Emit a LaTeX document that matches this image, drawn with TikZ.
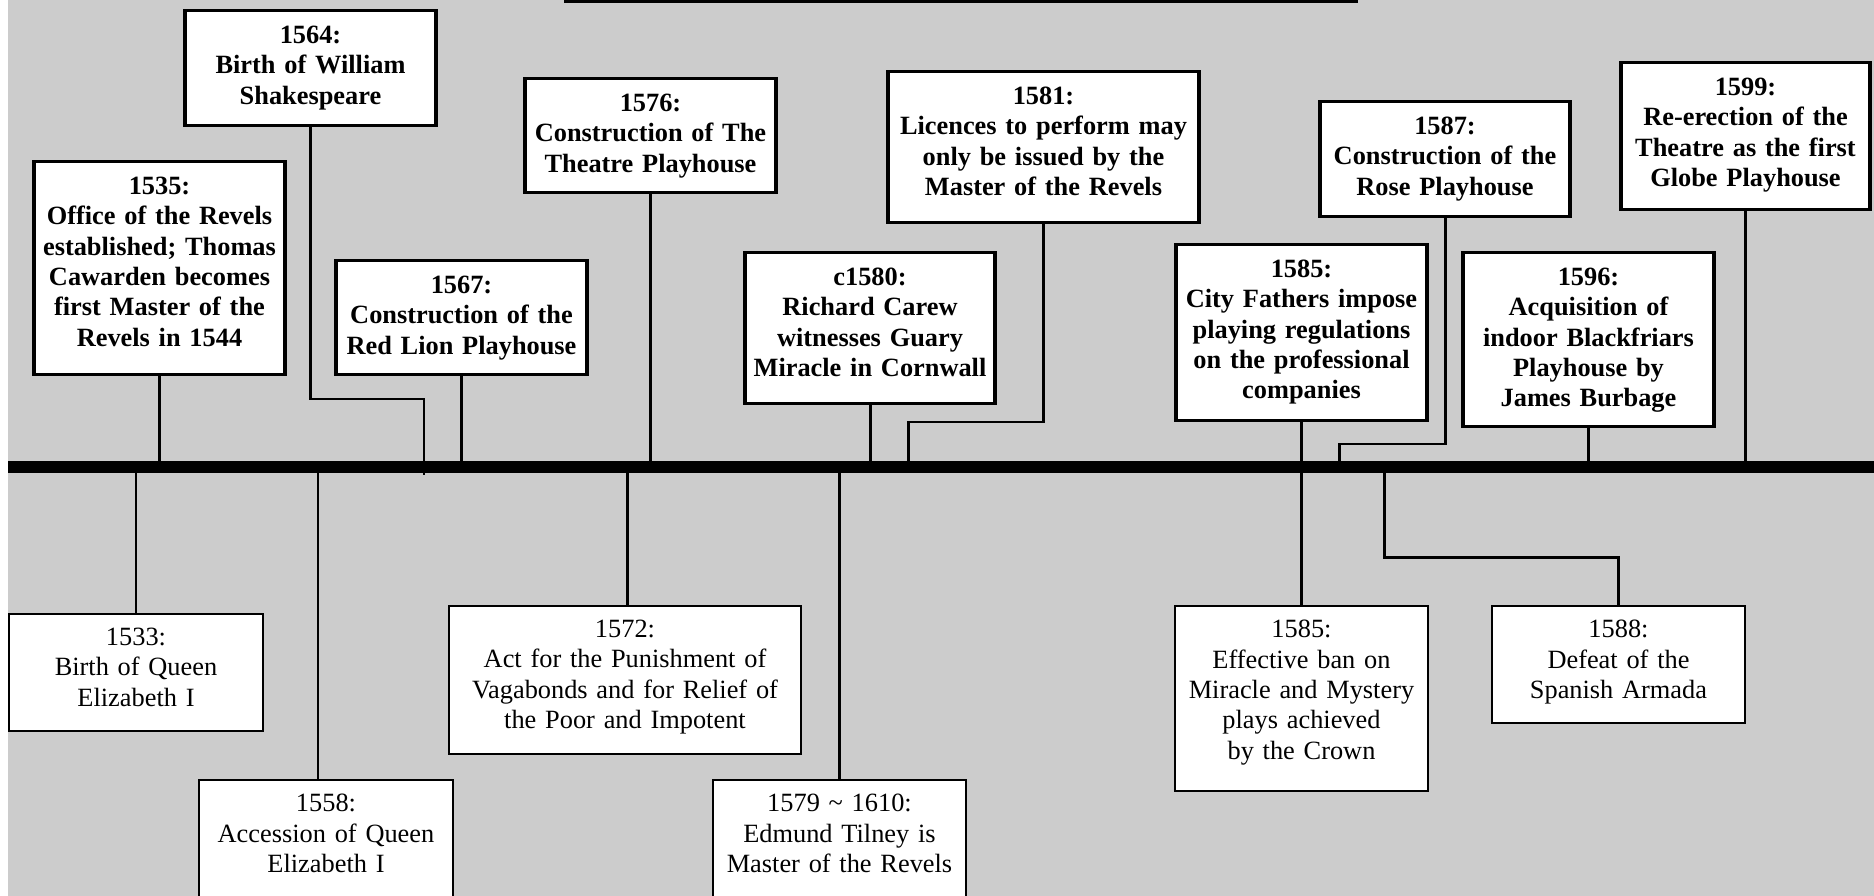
\documentclass[tikz,border=0pt]{standalone}
\usepackage{fontspec}
\setmainfont{Liberation Serif}
\usepackage{tikz}
\usetikzlibrary{positioning}
\definecolor{backdrop}{HTML}{CCCCCC}
\tikzstyle{theatre}=[draw,fill=white,line width=2pt,anchor=north,text width=5.03cm,align=center,inner xsep=0pt,inner ysep=0.306cm,font=\fontsize{15}{17.3}\selectfont\bfseries]
\tikzstyle{history}=[draw,fill=white,line width=1.15pt,anchor=north,text width=5.08cm,align=center,inner xsep=0pt,inner ysep=0.282cm,font=\fontsize{15}{17.3}\selectfont]
\tikzstyle{link}=[line width=1.7pt]
\tikzstyle{timeline}=[line width=6.8pt]

\begin{document}
\begin{tikzpicture}[x=0.02cm,y=-0.02cm]
\useasboundingbox (0,0) rectangle (1874,896);
\clip (0,0) rectangle (1874,896);
\fill[white] (0,0) rectangle (1874,896);
\fill[backdrop] (8,0) rectangle (1874,896);

\coordinate (barL) at (8,467);
\coordinate (barR) at (1874,467);
\coordinate (titleL) at (564,1.5);
\coordinate (titleR) at (1358,1.5);

\node [theatre,text depth=3.3cm] (b1535) at (159.5,159.75) {1535:\\Office of the Revels\\established; Thomas\\Cawarden becomes\\first Master of the\\Revels in 1544};
\node [theatre,text depth=1.34cm] (b1564) at (310.5,8.75) {1564:\\Birth of William\\Shakespeare};
\node [theatre,text depth=1.32cm] (b1567) at (461.5,258.75) {1567:\\Construction of the\\Red Lion Playhouse};
\node [theatre,text depth=1.32cm] (b1576) at (650.5,76.75) {1576:\\Construction of The\\Theatre Playhouse};
\node [theatre,text depth=2.06cm,text width=5.01cm] (b1580) at (870,250.75) {c1580:\\Richard Carew\\witnesses Guary\\Miracle in Cornwall};
\node [theatre,text depth=2.06cm,text width=6.23cm] (b1581) at (1043.5,69.75) {1581:\\Licences to perform may\\only be issued by the\\Master of the Revels};
\node [theatre,text depth=2.56cm] (b1585t) at (1301.5,242.75) {1585:\\City Fathers impose\\playing regulations\\on the professional\\companies};
\node [theatre,text depth=1.34cm,text width=5.01cm] (b1587) at (1445,99.75) {1587:\\Construction of the\\Rose Playhouse};
\node [theatre,text depth=2.52cm] (b1596) at (1588.5,250.75) {1596:\\Acquisition of\\indoor Blackfriars\\Playhouse by\\James Burbage};
\node [theatre,text depth=1.98cm,text width=4.99cm] (b1599) at (1745.5,60.75) {1599:\\Re-erection of the\\Theatre as the first\\Globe Playhouse};

\node [history,text depth=1.42cm] (b1533) at (136,613) {1533:\\Birth of Queen\\Elizabeth I};
\node [history,text depth=4cm] (b1558) at (326,779) {1558:\\Accession of Queen\\Elizabeth I};
\node [history,text depth=2.04cm,text width=7.04cm] (b1572) at (625,605) {1572:\\Act for the Punishment of\\Vagabonds and for Relief of\\the Poor and Impotent};
\node [history,text depth=4cm,text width=5.06cm] (b1579) at (839.5,779) {1579 \textasciitilde{} 1610:\\Edmund Tilney is\\Master of the Revels};
\node [history,text depth=2.78cm,text width=5.06cm] (b1585b) at (1301.5,605) {1585:\\Effective ban on\\Miracle and Mystery\\plays achieved\\by the Crown};
\node [history,text depth=1.42cm,text width=5.06cm] (b1588) at (1618.5,605) {1588:\\Defeat of the\\Spanish Armada};

\draw[link] (titleL) -- (titleR);
\draw[link] (b1535.south) -- (b1535.south |- barL);
\draw[link] (b1564.south) |- (424,399) -- (424,475);
\draw[link] (b1567.south) -- (b1567.south |- barL);
\draw[link] (b1576.south) -- (b1576.south |- barL);
\draw[link] (b1580.south) -- (b1580.south |- barL);
\draw[link] (b1581.south) |- (908,422) -- (908,467);
\draw[link] (b1585t.south) -- (b1585b.north);
\draw[link] (b1587.south) |- (1339,444) -- (1339,467);
\draw[link] (b1596.south) -- (b1596.south |- barL);
\draw[link] (b1599.south) -- (b1599.south |- barL);
\draw[link] (b1533.north) -- (b1533.north |- barL);
\draw[link] ([xshift=-0.16cm]b1558.north) -- ([xshift=-0.16cm]b1558.north |- barL);
\draw[link] ([xshift=0.05cm]b1572.north) -- ([xshift=0.05cm]b1572.north |- barL);
\draw[link] (b1579.north) -- (b1579.north |- barL);
\draw[link] (b1588.north) |- (1384,557) -- (1384,467);
\draw[timeline] (barL) -- (barR);
\end{tikzpicture}
\end{document}
